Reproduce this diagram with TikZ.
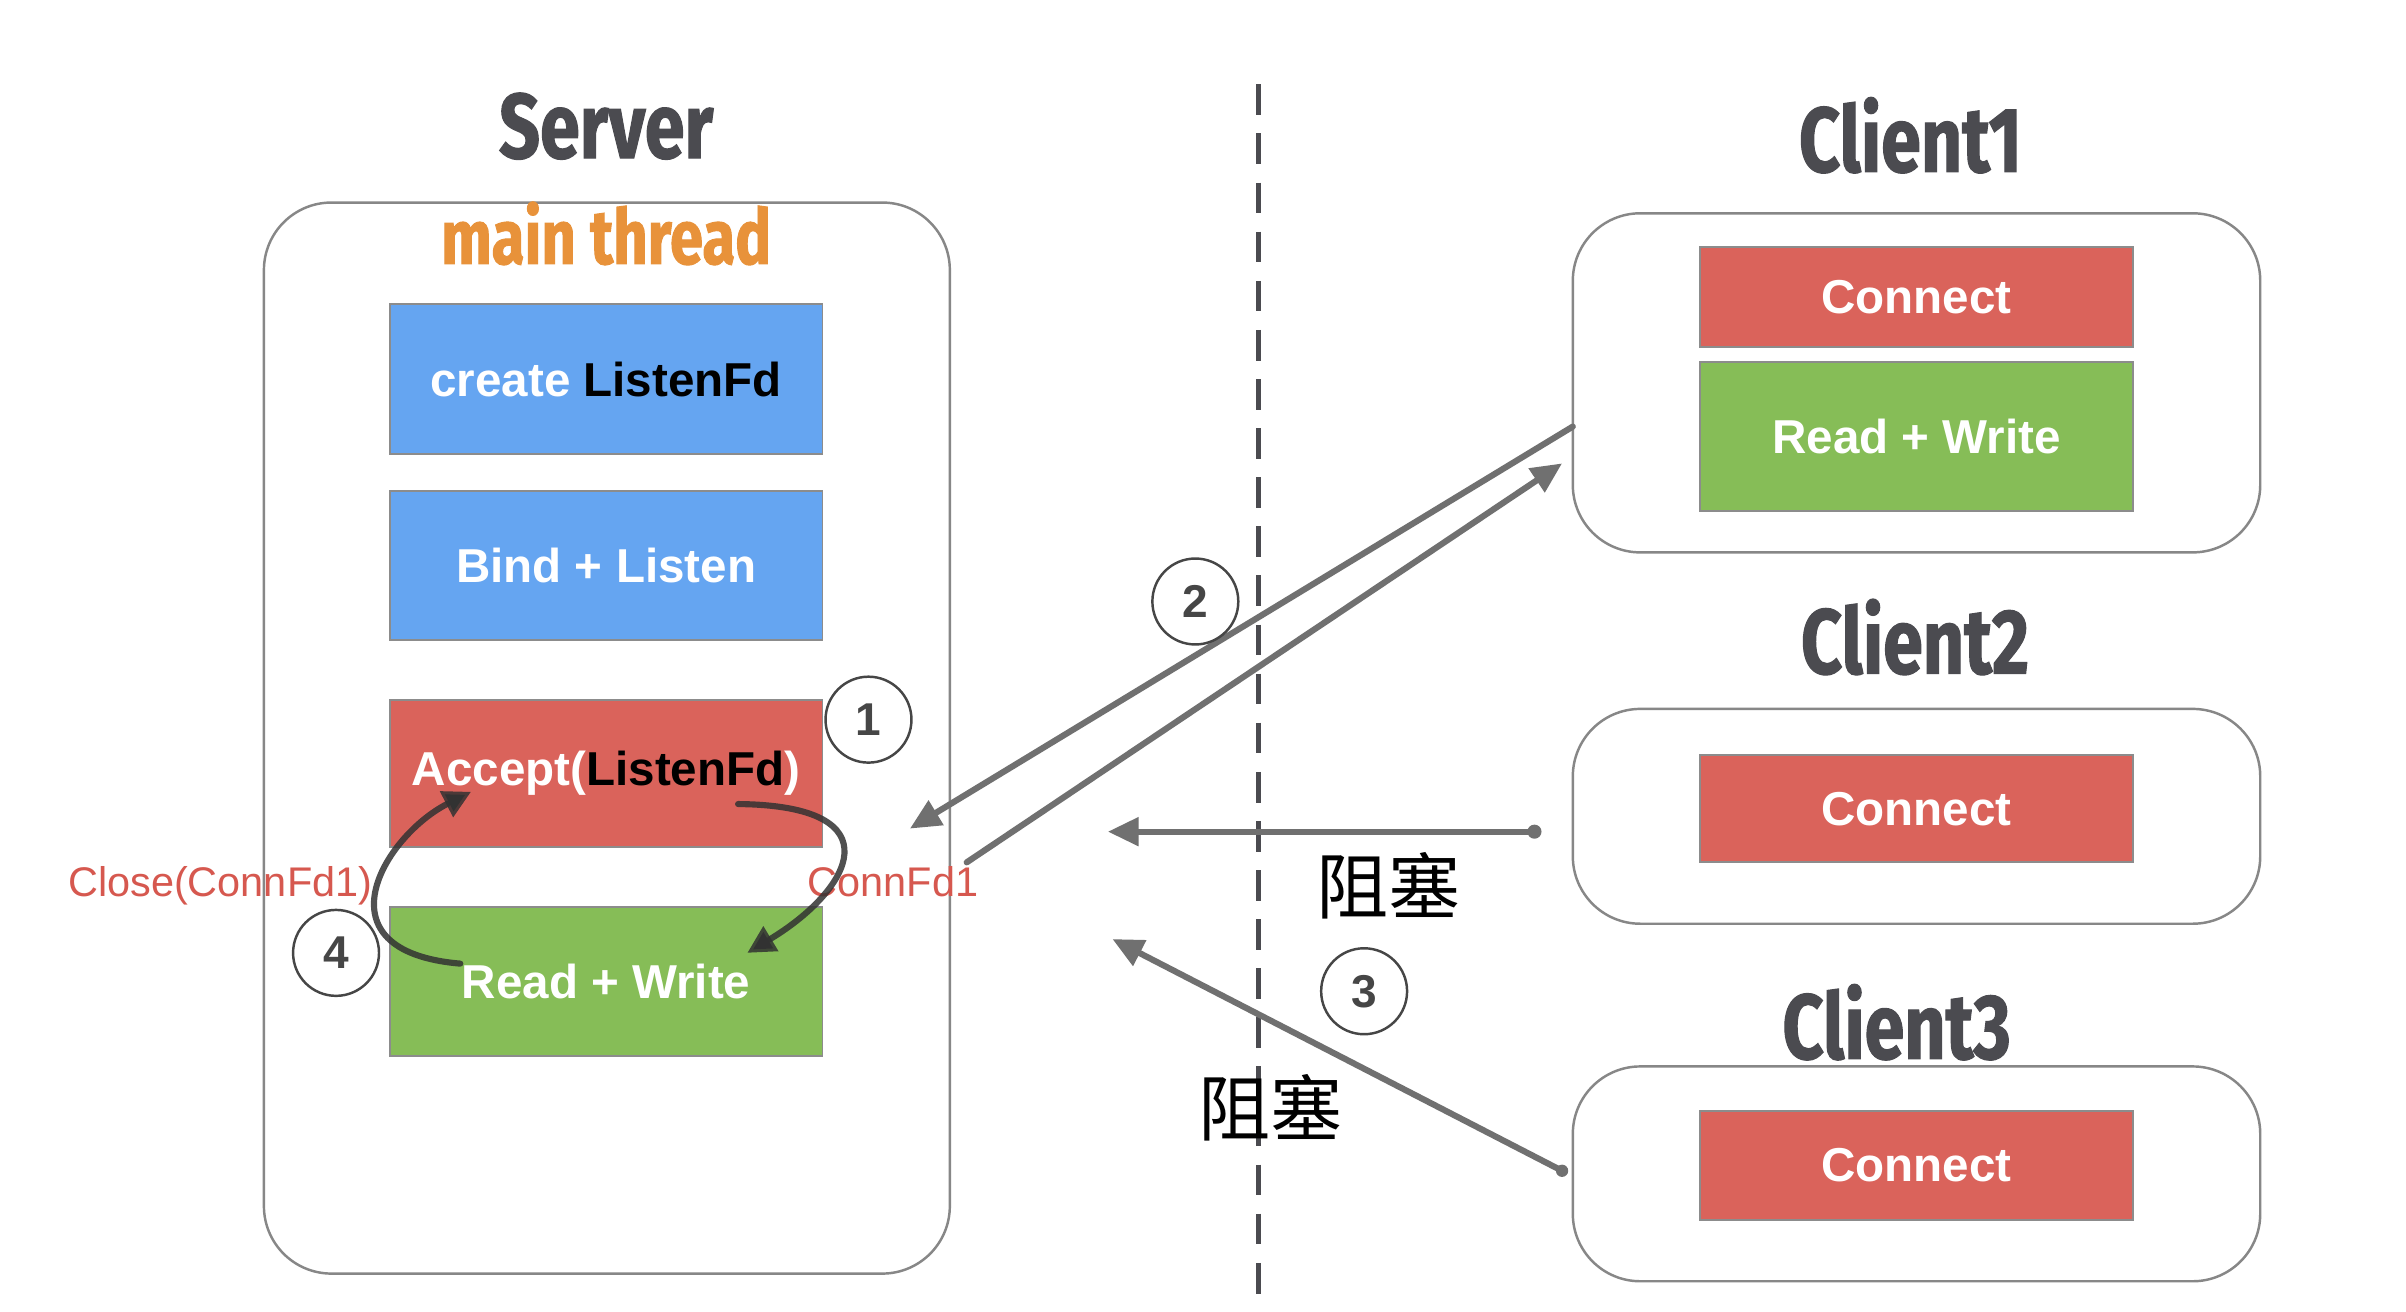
\documentclass[tikz,border=0pt]{standalone}
\usepackage{fontspec}
\usetikzlibrary{arrows.meta}
\setmainfont{Liberation Sans}
\newfontfamily\titlefont[FakeStretch=0.78,FakeBold=1.2]{Fira Sans}
\newfontfamily\cjkfont{Noto Sans CJK SC}
\definecolor{boxblue}{RGB}{101,165,241}
\definecolor{boxred}{RGB}{218,99,91}
\definecolor{boxgreen}{RGB}{134,189,87}
\definecolor{threadorange}{RGB}{232,146,58}
\definecolor{titlegray}{RGB}{75,75,80}
\definecolor{labelred}{RGB}{214,88,79}
\definecolor{panelgray}{RGB}{135,135,135}
\definecolor{edgegray}{RGB}{140,140,140}
\definecolor{flowgray}{RGB}{112,112,112}
\definecolor{loopdark}{RGB}{50,50,50}
\definecolor{circgray}{RGB}{70,70,70}
\tikzset{
  panel/.style={draw=panelgray, line width=0.8pt, rounded corners=22pt, fill=white, inner sep=0pt, outer sep=0pt, minimum width=224pt},
  opbox/.style={draw=edgegray, line width=0.6pt, inner sep=0pt, outer sep=0pt, minimum width=141pt, text=white, font=\bfseries\fontsize{15.5}{18}\selectfont},
  titletext/.style={text=titlegray, inner sep=0pt, font=\titlefont\bfseries\fontsize{30}{34}\selectfont},
  threadtext/.style={text=threadorange, inner sep=0pt, font=\titlefont\bfseries\fontsize{25}{28}\selectfont},
  redlabel/.style={text=labelred, inner sep=0pt, font=\fontsize{13.5}{16}\selectfont},
  numcirc/.style={circle, draw=circgray, line width=0.8pt, minimum size=28pt, inner sep=0pt, text=circgray, font=\bfseries\fontsize{15}{18}\selectfont},
  blocklabel/.style={inner sep=0pt, text=black, font=\cjkfont\fontsize{23.5}{26}\selectfont},
  flow/.style={draw=flowgray, line width=2pt, line cap=round, -{Triangle[length=10pt,width=9pt]}},
  cyclearrow/.style={draw=loopdark, draw opacity=0.85, line width=2pt, line cap=round, -{Triangle[length=9pt,width=9pt]}},
  divider/.style={draw=titlegray, line width=1.5pt, dash pattern=on 10pt off 6pt}
}
\begin{document}
\begin{tikzpicture}[x=0.5pt,y=-0.5pt]
\fill[white] (0,0) rectangle (1568,855);
\useasboundingbox (0,0) rectangle (1568,855);

% divider
\coordinate (dtop) at (820,55);
\coordinate (dbot) at (820,855);
\draw[divider] (dtop) -- (dbot);

% Server
\node[titletext, anchor=base] (servertitle) at (395,103) {Server};
\node[panel, minimum width=223.5pt, minimum height=349pt] (server) at (395.5,481) {};
\node[threadtext, anchor=base] (thread) at (395,172) {main thread};
\node[opbox, fill=boxblue, minimum height=49pt] (create) at (395,247) {create \textcolor{black}{ListenFd}};
\node[opbox, fill=boxblue, minimum height=48.5pt] (bind) at (395,368.5) {Bind + Listen};
\node[opbox, fill=boxred, minimum height=48pt] (accept) at (395,504) {Accept(\textcolor{black}{ListenFd})};
\node[opbox, fill=boxgreen, minimum height=48.5pt] (rw) at (395,639.5) {Read + Write};

\node[redlabel, anchor=base east] (close) at (243,584) {Close(ConnFd1)};
\node[redlabel, anchor=base west] (connfd) at (526,584) {ConnFd1};

% Clients
\node[titletext, anchor=base] (c1title) at (1245,112) {Client1};
\node[panel, minimum height=110.5pt] (c1) at (1249,249.5) {};
\node[opbox, fill=boxred, minimum height=32.5pt] (c1conn) at (1249,193.5) {Connect};
\node[opbox, fill=boxgreen, minimum height=48.5pt] (c1rw) at (1249,284.5) {Read + Write};

\node[titletext, anchor=base] (c2title) at (1248,439) {Client2};
\node[panel, minimum height=70pt] (c2) at (1249,532) {};
\node[opbox, fill=boxred, minimum height=35pt] (c2conn) at (1249,527) {Connect};

\node[titletext, anchor=base] (c3title) at (1236,690) {Client3};
\node[panel, minimum height=70pt] (c3) at (1249,765) {};
\node[opbox, fill=boxred, minimum height=35.5pt] (c3conn) at (1249,759.5) {Connect};

% loop arrows
\coordinate (l1s) at (481,524);
\coordinate (l1e) at (487,621);
\draw[cyclearrow] (l1s) .. controls (585,525) and (555,580) .. (l1e);
\coordinate (l2s) at (300,628);
\coordinate (l2e) at (307,516);
\draw[cyclearrow] (l2s) .. controls (205,620) and (250,545) .. (l2e);

% connection arrows
\coordinate (a1s) at (1025,278);
\coordinate (a1e) at (593,540);
\draw[flow] (a1s) -- (a1e);
\coordinate (a2s) at (630,562);
\coordinate (a2e) at (1018,302);
\draw[flow] (a2s) -- (a2e);
\coordinate (a3s) at (1000,542);
\coordinate (a3e) at (722,542);
\draw[flow] (a3s) -- (a3e);
\fill[flowgray] (a3s) circle (2.3pt);
\coordinate (a4s) at (1018,763);
\coordinate (a4e) at (725,612);
\draw[flow] (a4s) -- (a4e);
\fill[flowgray] (a4s) circle (2pt);

% step numbers
\node[numcirc, fill=white] (n1) at (566,469) {1};
\node[numcirc, fill=white] (n2) at (779,392) {2};
\node[numcirc] (n3) at (889,646) {3};
\node[numcirc] (n4) at (219,621) {4};

% blocking labels
\node[blocklabel] (block1) at (905,577) {阻塞};
\node[blocklabel] (block2) at (828,722) {阻塞};
\end{tikzpicture}
\end{document}
